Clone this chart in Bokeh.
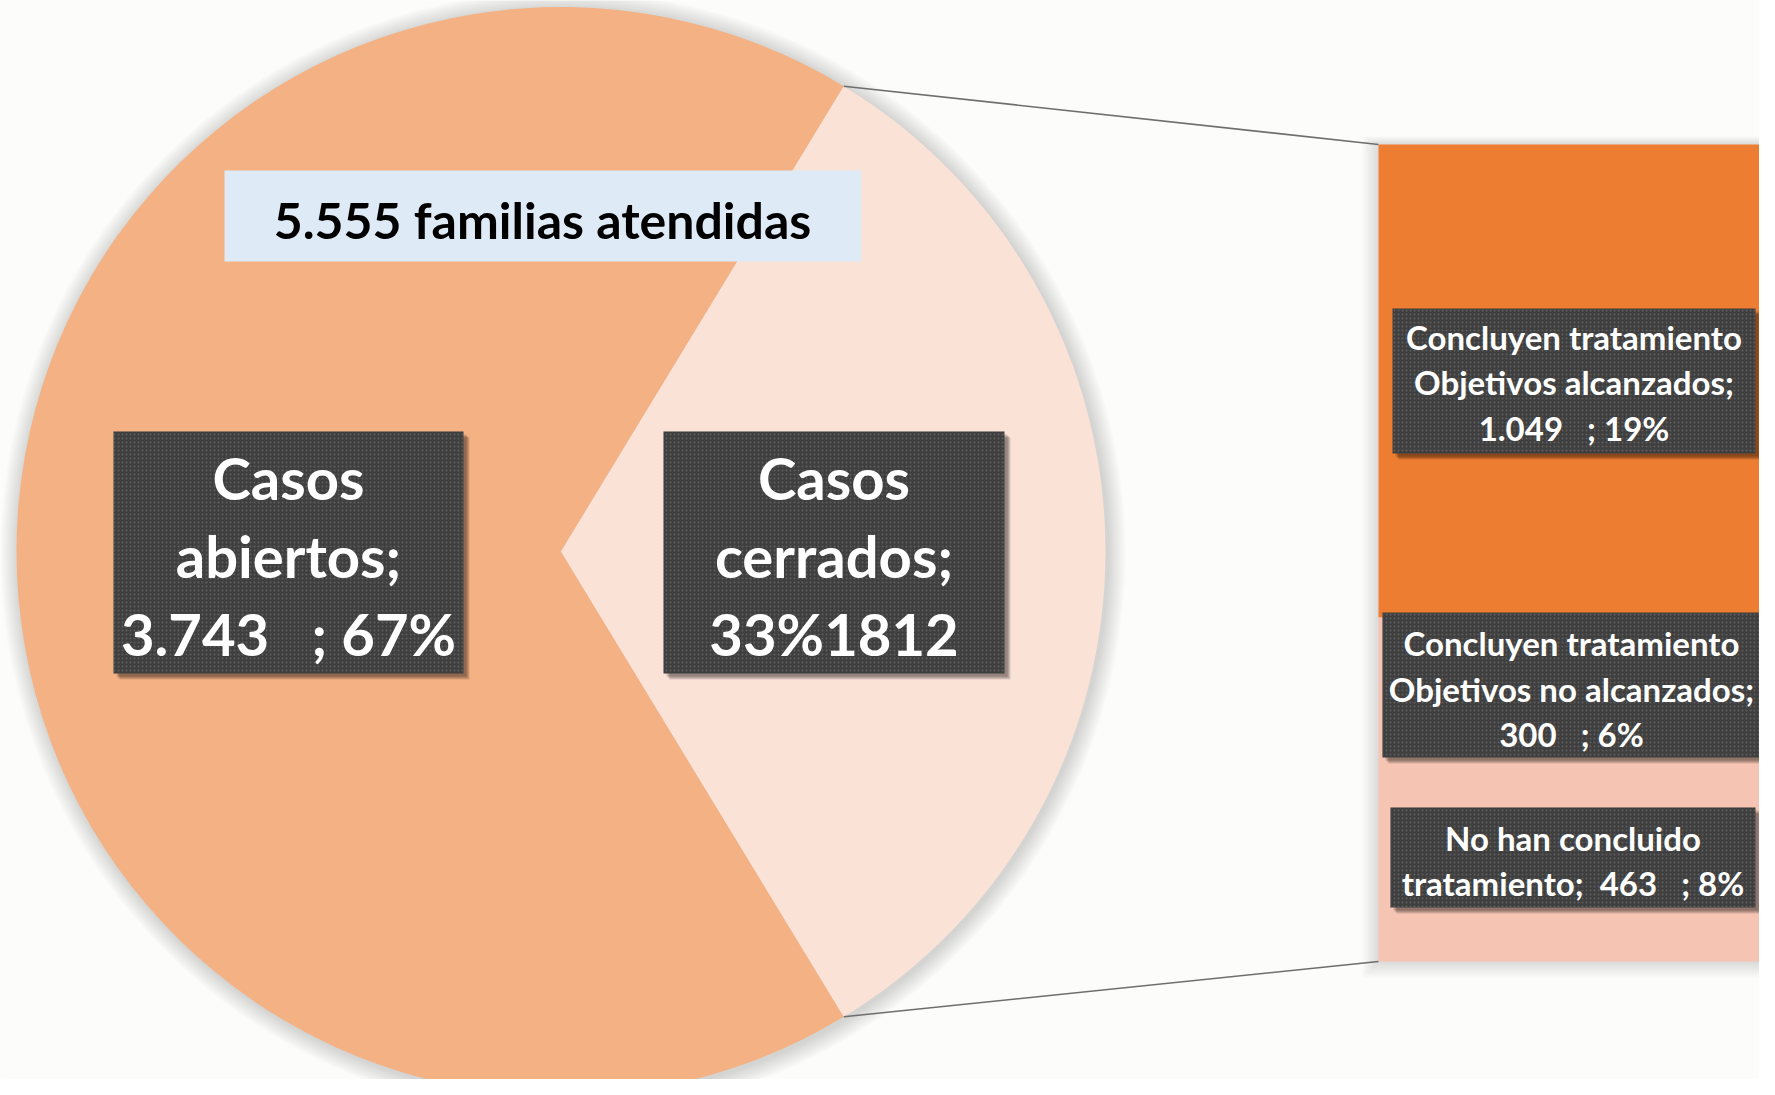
from math import pi, cos, sin
from bokeh.plotting import figure
from bokeh.models import Range1d
from bokeh.embed import file_html
from bokeh.resources import INLINE
from bokeh.core.properties import value

# ---------------- data ----------------
pie_names = ["Casos abiertos", "Casos cerrados"]
pie_values = [3743, 1812]
pie_pct = ["67%", "33%"]
pie_colors = ["#F4B183", "#FBE2D7"]

bar_names = ["Concluyen tratamiento Objetivos alcanzados",
             "Concluyen tratamiento Objetivos no alcanzados",
             "No han concluido tratamiento"]
bar_values = [1049, 300, 463]
bar_pct = ["19%", "6%", "8%"]
bar_colors = ["#ED7D31", "#F5C4B2", "#F5C4B2"]

total_families = 5555
title_text = "5.555 familias atendidas"

NB = "\u00a0"


def fmt(v):
    return f"{v:,}".replace(",", ".")


# label lines (text built from the data)
lbl_abiertos = ["Casos", "abiertos;", fmt(pie_values[0]) + NB * 3 + "; " + pie_pct[0]]
lbl_cerrados = ["Casos", "cerrados;", pie_pct[1] + str(pie_values[1])]
lbl_bar = [
    ["Concluyen tratamiento", "Objetivos alcanzados;", fmt(bar_values[0]) + NB * 3 + "; " + bar_pct[0]],
    ["Concluyen tratamiento", "Objetivos no alcanzados;", fmt(bar_values[1]) + NB * 3 + "; " + bar_pct[1]],
    ["No han concluido", "tratamiento;" + NB * 2 + fmt(bar_values[2]) + NB * 3 + "; " + bar_pct[2]],
]

# ---------------- layout ----------------
W, H = 1759, 1079
PAGE_H = 1095
FONT = value("Lato")
BG = "#FCFCFA"


def fy(ry):
    return PAGE_H - ry


p = figure(width=W, height=H, x_range=Range1d(0, W), y_range=Range1d(PAGE_H - H, PAGE_H),
           output_backend="svg", toolbar_location=None, x_axis_type=None, y_axis_type=None,
           min_border=0, outline_line_color=None)
p.grid.visible = False
p.background_fill_color = BG
p.border_fill_color = BG

# pie geometry
cx, cy, R = 560.5, fy(551), 544.5
frac_closed = pie_values[1] / sum(pie_values)
half = pi * frac_closed
angles = [(half, 2 * pi - half), (-half, half)]

# soft shadow around pie
for k in range(10, 0, -1):
    p.circle(x=[cx + 2], y=[cy - 2], radius=R + 1.8 * k, fill_color="black", fill_alpha=0.016, line_color=None)

# bar geometry
bar_left, bar_right = 1378, 1820
bar_top, bar_bottom = 144, 961
scale = (bar_bottom - bar_top) / sum(bar_values)

# soft shadow around bar
for k in range(8, 0, -1):
    p.quad(left=[bar_left - 2 * k], right=[bar_right], top=[fy(bar_top - 1.0 * k)],
           bottom=[fy(bar_bottom + 2 * k)], fill_color="black", fill_alpha=0.016, line_color=None)

# pie wedges
for (a0, a1), col in zip(angles, pie_colors):
    p.wedge(x=[cx], y=[cy], radius=R, start_angle=a0, end_angle=a1, direction="anticlock",
            fill_color=col, line_color=None)

# stacked bar
tops, bottoms = [], []
acc = bar_top
for v in bar_values:
    tops.append(fy(acc))
    acc += v * scale
    bottoms.append(fy(acc))
p.quad(left=[bar_left] * len(bar_values), right=[bar_right] * len(bar_values), top=tops, bottom=bottoms,
       fill_color=bar_colors, line_color=None)

# connector lines
p1 = (cx + R * cos(half), cy + R * sin(half))
p2 = (cx + R * cos(-half), cy + R * sin(-half))
p.line(x=[p1[0], bar_left], y=[p1[1], fy(bar_top)], line_color="#6E6E6E", line_width=1.6)
p.line(x=[p2[0], bar_left], y=[p2[1], fy(bar_bottom)], line_color="#6E6E6E", line_width=1.6)

# title box
p.quad(left=[224], right=[861], top=[fy(170)], bottom=[fy(261)], fill_color="#DEEBF7", line_color=None)
p.text(x=[542], y=[fy(219)], text=[title_text], text_font=FONT, text_font_style="bold",
       text_font_size="50px", text_color="black", text_align="center", text_baseline="middle")


def label_box(l, r, t, b, lines, ys, size, tx=None):
    # drop shadow
    for k in range(4, 0, -1):
        p.quad(left=[l + 2 + k], right=[r + 2 + k], top=[fy(t + 2 + k)], bottom=[fy(b + 2 + k)],
               fill_color="black", fill_alpha=0.12, line_color=None)
    p.quad(left=[l], right=[r], top=[fy(t)], bottom=[fy(b)], fill_color="#3F3F3F", line_color=None,
           hatch_pattern="dot", hatch_color="#5E5E5E", hatch_scale=4, hatch_weight=1.2)
    x0 = (l + r) / 2 if tx is None else tx
    p.text(x=[x0] * len(lines), y=[fy(v) for v in ys], text=lines, text_font=FONT,
           text_font_style="bold", text_font_size=size, text_color="white", text_align="center",
           text_baseline="middle")


big_ys = [477, 555, 633]
label_box(113, 463, 431, 673, lbl_abiertos, big_ys, "58px")
label_box(663, 1004, 431, 673, lbl_cerrados, big_ys, "58px")

label_box(1392, 1755, 308, 453, lbl_bar[0], [336, 381, 427], "33px")
label_box(1382, 1790, 612, 757, lbl_bar[1], [642, 688, 733], "33px", tx=1571)
label_box(1390, 1755, 807, 907, lbl_bar[2], [837, 882], "33px")

open("out.html", "w").write(file_html(p, INLINE))
